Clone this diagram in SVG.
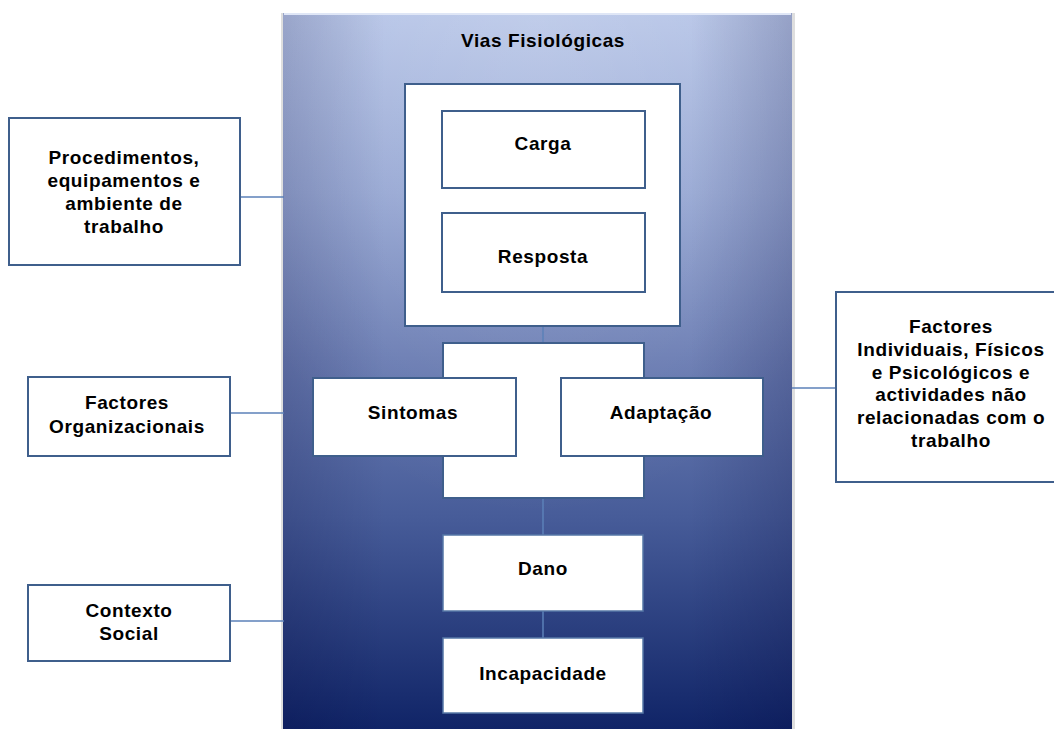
<svg xmlns="http://www.w3.org/2000/svg" width="1054" height="729" viewBox="0 0 1054 729">
<style>
.box{fill:#ffffff;stroke:#3f5f8c;stroke-width:2}
.ibox{fill:#ffffff;stroke:#5677a6;stroke-width:1.5}
.con{stroke:#5b80b8;stroke-width:1.5;fill:none}
text{font-family:"Liberation Sans",Arial,sans-serif;font-weight:bold;font-size:19px;letter-spacing:0.6px;fill:#000;text-anchor:middle}
</style>
<defs>
<linearGradient id="panelGrad" x1="0" y1="0" x2="0" y2="1">
<stop offset="0" stop-color="#b3c2e6"/>
<stop offset="0.25" stop-color="#94a5d2"/>
<stop offset="0.48" stop-color="#6b7db3"/>
<stop offset="0.7" stop-color="#475c99"/>
<stop offset="1" stop-color="#0f2366"/>
</linearGradient>
<radialGradient id="panelHi" cx="0.5" cy="0" r="0.7" gradientUnits="objectBoundingBox">
<stop offset="0" stop-color="#ffffff" stop-opacity="0.18"/>
<stop offset="1" stop-color="#ffffff" stop-opacity="0"/>
</radialGradient>
<linearGradient id="sideShade" x1="0" y1="0" x2="1" y2="0">
<stop offset="0" stop-color="#000033" stop-opacity="0.16"/>
<stop offset="0.2" stop-color="#000033" stop-opacity="0"/>
<stop offset="0.8" stop-color="#000033" stop-opacity="0"/>
<stop offset="1" stop-color="#000033" stop-opacity="0.18"/>
</linearGradient>
</defs>
<rect width="1054" height="729" fill="#ffffff"/>

<g id="panel">
<rect x="281" y="13" width="514" height="720" fill="#c8c8c8" opacity="0.6"/>
<rect x="283" y="13" width="509" height="720" fill="url(#panelGrad)"/>
<rect x="283" y="13" width="509" height="720" fill="url(#panelHi)"/>
<rect x="283" y="13" width="509" height="720" fill="url(#sideShade)"/>
<line x1="284" y1="14" x2="791" y2="14" stroke="#dfe6f6" stroke-width="2"/>
<text x="543" y="47">Vias Fisiológicas</text>
</g>

<g id="connectors">
<line class="con" x1="543" y1="188" x2="543" y2="213"/>
<line class="con" x1="543" y1="326" x2="543" y2="343"/>
<line class="con" x1="516" y1="422" x2="561" y2="422"/>
<line class="con" x1="543" y1="498" x2="543" y2="535"/>
<line class="con" x1="543" y1="611" x2="543" y2="638"/>
<line class="con" x1="240" y1="197" x2="284" y2="197"/>
<line class="con" x1="230" y1="413" x2="284" y2="413"/>
<line class="con" x1="230" y1="621" x2="284" y2="621"/>
<line class="con" x1="792" y1="388" x2="836" y2="388"/>
</g>

<g id="outer-box">
<rect class="box" x="405" y="84" width="275" height="242"/>
</g>
<g id="carga">
<rect class="box" x="442" y="111" width="203" height="77"/>
<text x="543" y="150">Carga</text>
</g>
<g id="resposta">
<rect class="box" x="442" y="213" width="203" height="79"/>
<text x="543" y="263">Resposta</text>
</g>
<g id="middle-box">
<rect class="box" x="443" y="343" width="201" height="155"/>
</g>
<g id="sintomas">
<rect class="box" x="313" y="378" width="203" height="78"/>
<text x="413" y="419">Sintomas</text>
</g>
<g id="adaptacao">
<rect class="box" x="561" y="378" width="202" height="78"/>
<text x="661" y="419">Adaptação</text>
</g>
<g id="dano">
<rect class="ibox" x="443" y="535" width="200" height="76"/>
<text x="543" y="575">Dano</text>
</g>
<g id="incapacidade">
<rect class="ibox" x="443" y="638" width="200" height="75"/>
<text x="543" y="680">Incapacidade</text>
</g>

<g id="procedimentos">
<rect class="box" x="9" y="118" width="231" height="147"/>
<text x="124" y="164">Procedimentos,</text>
<text x="124" y="187">equipamentos e</text>
<text x="124" y="210">ambiente de</text>
<text x="124" y="233">trabalho</text>
</g>
<g id="factores-org">
<rect class="box" x="28" y="377" width="202" height="79"/>
<text x="127" y="409">Factores</text>
<text x="127" y="433">Organizacionais</text>
</g>
<g id="contexto-social">
<rect class="box" x="28" y="585" width="202" height="76"/>
<text x="129" y="617">Contexto</text>
<text x="129" y="640">Social</text>
</g>
<g id="factores-ind">
<rect class="box" x="836" y="292" width="232" height="190"/>
<text x="951" y="333">Factores</text>
<text x="951" y="356">Individuais, Físicos</text>
<text x="951" y="379">e Psicológicos e</text>
<text x="951" y="401">actividades não</text>
<text x="951" y="424">relacionadas com o</text>
<text x="951" y="447">trabalho</text>
</g>
</svg>
